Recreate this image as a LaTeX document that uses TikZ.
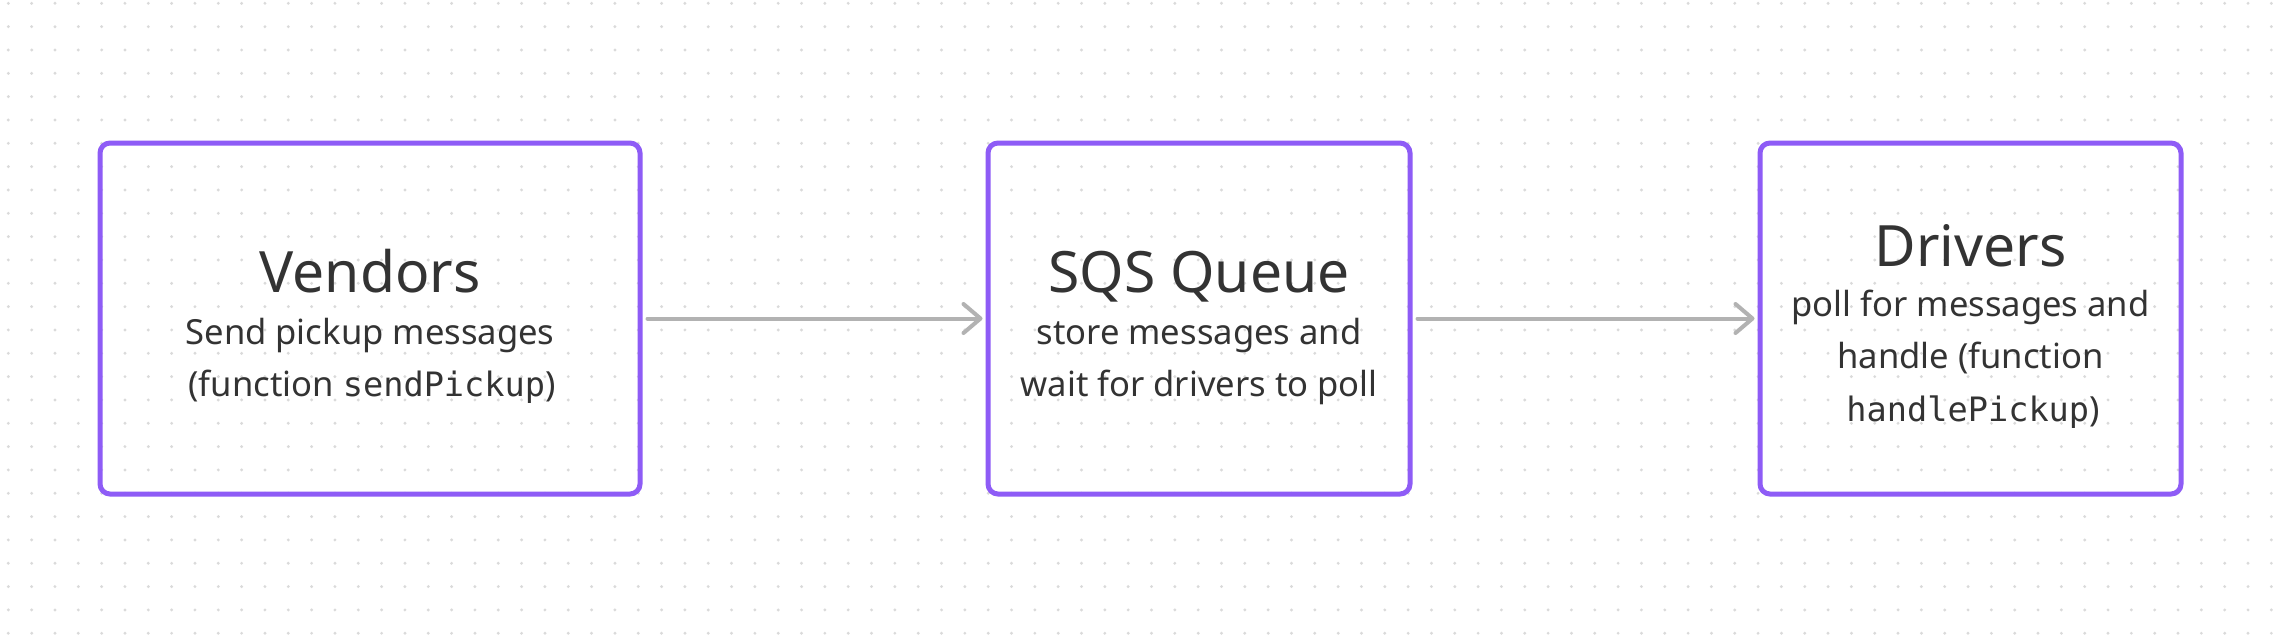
\documentclass[tikz,border=0pt]{standalone}
\usepackage{fontspec}
\setmainfont{Noto Sans}
\setmonofont{DejaVu Sans Mono}
\usetikzlibrary{arrows.meta}
\definecolor{boxpurple}{RGB}{142,92,246}
\definecolor{arrowgray}{RGB}{178,178,178}
\definecolor{textdark}{RGB}{51,51,51}
\definecolor{dotgray}{RGB}{218,218,218}
\tikzset{
  box/.style={draw=boxpurple, line width=2.5pt, rounded corners=5pt, inner sep=0pt},
  title/.style={anchor=base, inner sep=0pt, text=textdark, font=\fontsize{28.5}{34}\selectfont},
  sub/.style={anchor=base, inner sep=0pt, text=textdark, font=\fontsize{17.3}{20}\selectfont},
  flow/.style={draw=arrowgray, line width=2pt, line cap=round, -{Straight Barb[length=8.5pt,width=14.5pt,line cap=round,line join=round]}},
}
\newcommand{\cod}[1]{{\fontsize{16.8}{20}\ttfamily #1}}
\begin{document}
\begin{tikzpicture}[x=0.5pt,y=-0.5pt]
\useasboundingbox (0,0) rectangle (2286,634);
\fill[white] (0,0) rectangle (2286,634);
\foreach \i in {0,...,97} {
  \foreach \j in {0,...,27} {
    \fill[dotgray] (8.33+23.33*\i, 3.33+23.33*\j) circle (1.6);
  }
}
% boxes
\node[box, minimum width=270pt, minimum height=175.5pt] (vend) at (370,318.5) {};
\node[box, minimum width=211pt, minimum height=175.5pt] (sqs) at (1199,318.5) {};
\node[box, minimum width=210.5pt, minimum height=175.5pt] (drv) at (1970.5,318.5) {};
% texts
\node[title] (vendT) at (370,292.3) {Vendors};
\node[sub] (vendA) at (370,344) {Send pickup messages};
\node[sub] (vendB) at (372,396.7) {(function \cod{sendPickup})};
\node[title] (sqsT) at (1199,292.3) {SQS Queue};
\node[sub] (sqsA) at (1199,344) {store messages and};
\node[sub] (sqsB) at (1199,396.7) {wait for drivers to poll};
\node[title] (drvT) at (1970.5,266.7) {Drivers};
\node[sub] (drvA) at (1970.5,316.7) {poll for messages and};
\node[sub] (drvB) at (1970.5,368.3) {handle (function};
\node[sub] (drvC) at (1973,421) {\cod{handlePickup})};
% arrows
\draw[flow] ([xshift=2.5pt]vend.east) -- ([xshift=-1.5pt]sqs.west);
\draw[flow] ([xshift=2.5pt]sqs.east) -- ([xshift=-1.5pt]drv.west);
\end{tikzpicture}
\end{document}
